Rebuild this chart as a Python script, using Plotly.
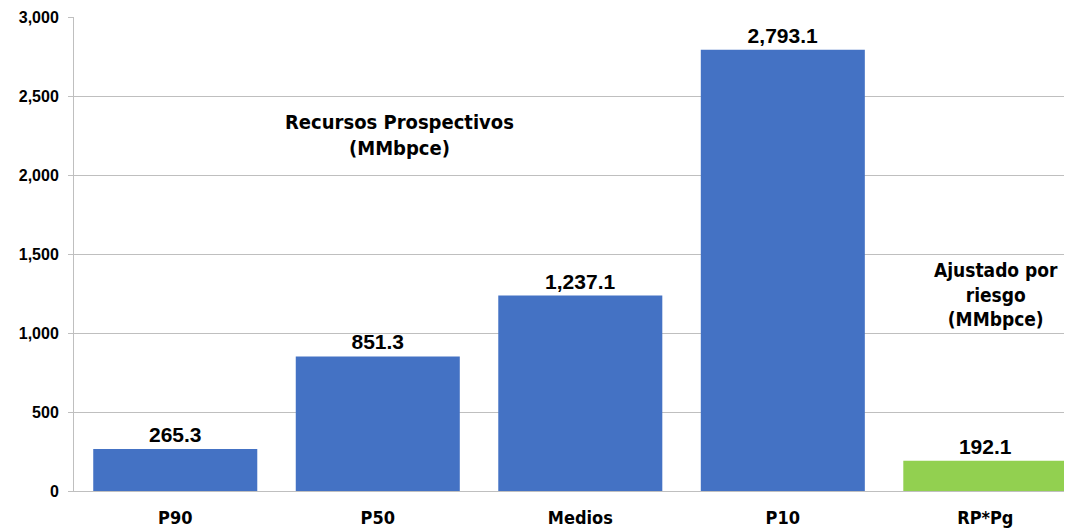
import plotly.graph_objects as go

categories = ["P90", "P50", "Medios", "P10", "RP*Pg"]
values = [265.3, 851.3, 1237.1, 2793.1, 192.1]
colors = ["#4472C4", "#4472C4", "#4472C4", "#4472C4", "#92D050"]
y_ticks = [0, 500, 1000, 1500, 2000, 2500, 3000]

NARROW = "DejaVu Sans Condensed"

fig = go.Figure()
fig.add_trace(go.Bar(
    x=categories, y=values, marker_color=colors, marker_line_width=0,
    texttemplate="%{y:,.1f}", textposition="outside", cliponaxis=False,
    textfont=dict(family="Liberation Sans", size=21, color="#000000", weight="bold"),
))

fig.add_annotation(
    x=1.105, xref="x", xanchor="center", y=2253, yref="y",
    text="Recursos Prospectivos<br>(MMbpce)", showarrow=False,
    font=dict(family=NARROW, size=20, color="#000000", weight="bold"),
)
fig.add_annotation(
    x=4.053, xref="x", xanchor="center", y=1245, yref="y",
    text="Ajustado por<br>riesgo<br>(MMbpce)", showarrow=False,
    font=dict(family=NARROW, size=19, color="#000000", weight="bold"),
)

fig.update_layout(
    width=1064, height=521,
    margin=dict(l=66, r=0, t=9, b=38),
    paper_bgcolor="white", plot_bgcolor="white",
    bargap=0.19, showlegend=False,
    font=dict(family="Liberation Sans", color="#000000"),
)
fig.update_yaxes(
    range=[0, 3000], tickvals=y_ticks, tickformat=",",
    showgrid=True, gridcolor="#BFBFBF", gridwidth=1,
    showline=True, linecolor="#BFBFBF", linewidth=1,
    ticks="outside", ticklen=5, tickcolor="#BFBFBF",
    ticklabelstandoff=6,
    tickfont=dict(family="Liberation Sans", size=16, color="#000000", weight="bold"),
    zeroline=False,
)
fig.update_xaxes(
    range=[-0.5, 4.428],
    showline=True, linecolor="#BFBFBF", linewidth=1, ticks="",
    ticklabelstandoff=10,
    tickfont=dict(family=NARROW, size=18, color="#000000", weight="bold"),
)

fig.write_html("out.html")
